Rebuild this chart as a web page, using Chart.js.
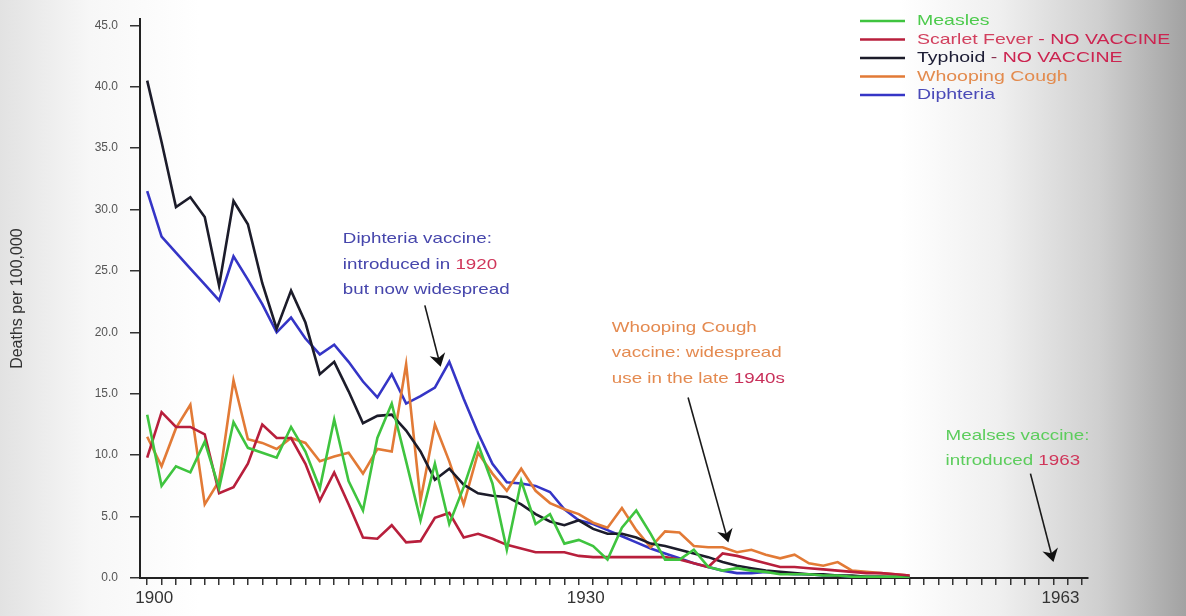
<!DOCTYPE html>
<html>
<head>
<meta charset="utf-8">
<script src="https://cdn.jsdelivr.net/npm/chart.js@4.4.1/dist/chart.umd.min.js"></script>
<style>
html, body { margin: 0; padding: 0; }
body {
	width: 1186px; height: 616px; overflow: hidden;
	background: linear-gradient(to right, #e2e2e2 0px, #f7f7f7 90px, #ffffff 200px, #ffffff 900px, #efefef 1000px, #cfcfcf 1100px, #a2a2a2 1186px);
}
</style>
</head>
<body>
<canvas id="deaths-chart" width="1186" height="616"></canvas>
<script>
// Deaths per 100,000 - USA, 1900 onwards

var years = [
	1900, 1901, 1902, 1903, 1904, 1905, 1906, 1907, 1908, 1909,
	1910, 1911, 1912, 1913, 1914, 1915, 1916, 1917, 1918, 1919,
	1920, 1921, 1922, 1923, 1924, 1925, 1926, 1927, 1928, 1929,
	1930, 1931, 1932, 1933, 1934, 1935, 1936, 1937, 1938, 1939,
	1940, 1941, 1942, 1943, 1944, 1945, 1946, 1947, 1948, 1949,
	1950, 1951, 1952, 1953
];
var measles = [
	13.3, 7.5, 9.1, 8.6, 11.1, 7.3, 12.7, 10.6, 10.2, 9.8,
	12.3, 10.3, 7.3, 12.9, 7.9, 5.5, 11.4, 14.2, 9.5, 4.7,
	9.3, 4.4, 7.4, 10.9, 7.7, 2.3, 7.9, 4.4, 5.2, 2.8,
	3.1, 2.6, 1.5, 4.1, 5.5, 3.6, 1.5, 1.5, 2.3, 0.9,
	0.6, 0.8, 0.6, 0.5, 0.3, 0.3, 0.3, 0.2, 0.2, 0.1,
	0.1, 0.1, 0.1, 0.0
];
var scarletFever = [
	9.8, 13.5, 12.3, 12.3, 11.7, 6.9, 7.4, 9.3, 12.5, 11.4,
	11.4, 9.3, 6.3, 8.6, 6.0, 3.3, 3.2, 4.3, 2.9, 3.0,
	4.9, 5.3, 3.3, 3.6, 3.2, 2.7, 2.4, 2.1, 2.1, 2.1,
	1.8, 1.7, 1.7, 1.7, 1.7, 1.7, 1.7, 1.5, 1.2, 0.9,
	2.0, 1.8, 1.5, 1.2, 0.9, 0.9, 0.8, 0.7, 0.6, 0.5,
	0.4, 0.4, 0.3, 0.2
];
var typhoid = [
	40.5, 35.5, 30.2, 31.0, 29.4, 23.8, 30.7, 28.8, 24.0, 20.3,
	23.4, 20.8, 16.6, 17.6, 15.2, 12.6, 13.2, 13.3, 12.0, 10.3,
	8.0, 8.9, 7.6, 6.9, 6.7, 6.6, 6.0, 5.2, 4.6, 4.3,
	4.7, 4.0, 3.6, 3.6, 3.3, 2.8, 2.6, 2.3, 2.0, 1.7,
	1.3, 1.0, 0.8, 0.6, 0.5, 0.4, 0.3, 0.3, 0.2, 0.2,
	0.1, 0.1, 0.1, 0.1
];
var whoopingCough = [
	11.5, 9.1, 12.2, 14.1, 6.0, 7.9, 16.1, 11.3, 11.0, 10.5,
	11.4, 11.0, 9.5, 9.9, 10.2, 8.5, 10.5, 10.3, 17.4, 6.3,
	12.5, 9.5, 6.0, 10.2, 8.5, 7.1, 8.9, 7.1, 6.1, 5.6,
	5.2, 4.5, 4.1, 5.7, 3.9, 2.5, 3.8, 3.7, 2.6, 2.5,
	2.5, 2.1, 2.3, 1.9, 1.6, 1.9, 1.2, 1.0, 1.3, 0.6,
	0.5, 0.4, 0.3, 0.2
];
var diphtheria = [
	31.5, 27.8, 26.5, 25.2, 23.9, 22.6, 26.2, 24.3, 22.3, 20.0,
	21.2, 19.5, 18.2, 19.0, 17.6, 16.0, 14.7, 16.6, 14.2, 14.8,
	15.5, 17.6, 14.6, 11.8, 9.3, 7.8, 7.7, 7.5, 7.0, 5.6,
	4.7, 4.4, 3.9, 3.4, 2.9, 2.4, 2.0, 1.6, 1.2, 0.9,
	0.6, 0.4, 0.4, 0.5, 0.4, 0.3, 0.3, 0.2, 0.2, 0.1,
	0.1, 0.1, 0.0, 0.0
];

var yTicks = [0, 5, 10, 15, 20, 25, 30, 35, 40, 45];
var xTickYears = [
	1900, 1901, 1902, 1903, 1904, 1905, 1906, 1907, 1908, 1909,
	1910, 1911, 1912, 1913, 1914, 1915, 1916, 1917, 1918, 1919,
	1920, 1921, 1922, 1923, 1924, 1925, 1926, 1927, 1928, 1929,
	1930, 1931, 1932, 1933, 1934, 1935, 1936, 1937, 1938, 1939,
	1940, 1941, 1942, 1943, 1944, 1945, 1946, 1947, 1948, 1949,
	1950, 1951, 1952, 1953, 1954, 1955, 1956, 1957, 1958, 1959,
	1960, 1961, 1962, 1963, 1964, 1965
];
var xLabelYears = [1900, 1930, 1963];

var seriesNames = ['Measles', 'Scarlet Fever', 'Typhoid', 'Whooping Cough', 'Diphteria'];
var seriesColors = ['#3fc43f', '#b81f3c', '#1c1c2a', '#e27a36', '#3535c6'];

// legend text: one list of [text, colour] parts per series
var legendParts = [
	[['Measles', '#4dcb4d']],
	[['Scarlet Fever', '#d2405e'], [' - NO VACCINE', '#cc2450']],
	[['Typhoid', '#1c1c34'], [' - ', '#8a3050'], ['NO VACCINE', '#cc2450']],
	[['Whooping Cough', '#e38b4e']],
	[['Diphteria', '#4a4ab8']]
];

// notes: lines of [text, colour] parts, text anchor and arrow in data units
var notes = [
	{
		at: [1913.6, 27.6],
		lines: [
			[['Diphteria vaccine:', '#4646ac']],
			[['introduced in ', '#4646ac'], ['1920', '#d0365a']],
			[['but now widespread', '#4646ac']]
		],
		from: [1919.3, 22.2], to: [1920.4, 17.2]
	},
	{
		at: [1932.3, 20.4],
		lines: [
			[['Whooping Cough', '#e48a50']],
			[['vaccine: widespread', '#e48a50']],
			[['use in the late ', '#e48a50'], ['1940s', '#c8305a']]
		],
		from: [1937.6, 14.7], to: [1940.4, 2.9]
	},
	{
		at: [1955.5, 11.6],
		lines: [
			[['Mealses vaccine:', '#5ccd5c']],
			[['introduced ', '#5ccd5c'], ['1963', '#d0365a']]
		],
		from: [1961.4, 8.5], to: [1963.0, 1.3]
	}
];

var FONT = '"Liberation Sans", Arial, sans-serif';

function drawParts(ctx, parts, x, y, size, stretch) {
	ctx.save();
	ctx.translate(x, y);
	ctx.scale(stretch, 1);
	ctx.font = size + 'px ' + FONT;
	ctx.textBaseline = 'middle';
	ctx.textAlign = 'left';
	var cx = 0;
	parts.forEach(function(p) {
		ctx.fillStyle = p[1];
		ctx.fillText(p[0], cx, 0);
		cx += ctx.measureText(p[0]).width;
	});
	ctx.restore();
}

function drawArrow(ctx, x1, y1, x2, y2) {
	var ang = Math.atan2(y2 - y1, x2 - x1);
	ctx.save();
	ctx.strokeStyle = '#1a1a1a';
	ctx.fillStyle = '#111';
	ctx.lineWidth = 1.6;
	ctx.beginPath();
	ctx.moveTo(x1, y1);
	ctx.lineTo(x2 - 6 * Math.cos(ang), y2 - 6 * Math.sin(ang));
	ctx.stroke();
	ctx.translate(x2, y2);
	ctx.rotate(ang);
	ctx.beginPath();
	ctx.moveTo(0, 0);
	ctx.lineTo(-13, -8);
	ctx.lineTo(-9, 0);
	ctx.lineTo(-13, 8);
	ctx.closePath();
	ctx.fill();
	ctx.restore();
}

var notesPlugin = {
	id: 'notesPlugin',
	afterDraw: function(chart) {
		var ctx = chart.ctx;
		var xs = chart.scales.x, ys = chart.scales.y;

		// legend, top right
		legendParts.forEach(function(parts, i) {
			var y = 21 + i * 18.5;
			ctx.save();
			ctx.strokeStyle = seriesColors[i];
			ctx.lineWidth = 2.5;
			ctx.beginPath();
			ctx.moveTo(860, y);
			ctx.lineTo(905, y);
			ctx.stroke();
			ctx.restore();
			drawParts(ctx, parts, 917, y, 15, 1.3);
		});

		notes.forEach(function(n) {
			var tx = xs.getPixelForValue(n.at[0]);
			var ty = ys.getPixelForValue(n.at[1]);
			n.lines.forEach(function(parts, i) {
				drawParts(ctx, parts, tx, ty + i * 25.5, 15, 1.25);
			});
			drawArrow(ctx,
				xs.getPixelForValue(n.from[0]), ys.getPixelForValue(n.from[1]),
				xs.getPixelForValue(n.to[0]), ys.getPixelForValue(n.to[1]));
		});
	}
};

function makeSet(name, values, color) {
	return {
		label: name,
		data: values.map(function(v, i) { return { x: years[i], y: v }; }),
		borderColor: color,
		backgroundColor: color,
		borderWidth: 2.6,
		pointRadius: 0,
		tension: 0,
		fill: false
	};
}

window.addEventListener('load', function() {
	var ctx = document.getElementById('deaths-chart').getContext('2d');
	var deathsChart = new Chart(ctx, {
		type: 'line',
		data: {
			datasets: [
				makeSet(seriesNames[0], measles, seriesColors[0]),
				makeSet(seriesNames[1], scarletFever, seriesColors[1]),
				makeSet(seriesNames[2], typhoid, seriesColors[2]),
				makeSet(seriesNames[3], whoopingCough, seriesColors[3]),
				makeSet(seriesNames[4], diphtheria, seriesColors[4])
			]
		},
		options: {
			responsive: false,
			maintainAspectRatio: false,
			animation: false,
			layout: { padding: { top: 14, right: 98, left: 0, bottom: 0 } },
			plugins: {
				legend: { display: false },
				tooltip: { enabled: false }
			},
			scales: {
				x: {
					type: 'linear',
					min: 1899.5,
					max: 1965.4,
					afterBuildTicks: function(scale) {
						scale.ticks = xTickYears.map(function(v) { return { value: v }; });
					},
					afterFit: function(scale) { scale.height = 38; },
					border: { display: true, color: '#222', width: 2 },
					grid: { drawOnChartArea: false, drawTicks: true, tickLength: 7, color: '#333', lineWidth: 1.5 },
					ticks: {
						autoSkip: false,
						maxRotation: 0,
						minRotation: 0,
						padding: 3,
						labelOffset: 7,
						color: '#333',
						font: { family: FONT, size: 17 },
						callback: function(v) { return xLabelYears.indexOf(v) >= 0 ? String(v) : ''; }
					}
				},
				y: {
					min: 0,
					max: 45.5,
					afterBuildTicks: function(scale) {
						scale.ticks = yTicks.map(function(v) { return { value: v }; });
					},
					afterFit: function(scale) { scale.width = 140; },
					border: { display: true, color: '#222', width: 2 },
					grid: { drawOnChartArea: false, drawTicks: true, tickLength: 10, color: '#333', lineWidth: 1.5 },
					ticks: {
						padding: 12,
						color: '#555',
						font: { family: FONT, size: 12 },
						callback: function(v) { return v.toFixed(1); }
					},
					title: {
						display: true,
						text: 'Deaths per 100,000',
						color: '#333',
						padding: { top: 8, bottom: 0 },
						font: { family: FONT, size: 16 }
					}
				}
			}
		},
		plugins: [notesPlugin]
	});
});
</script>
</body>
</html>
